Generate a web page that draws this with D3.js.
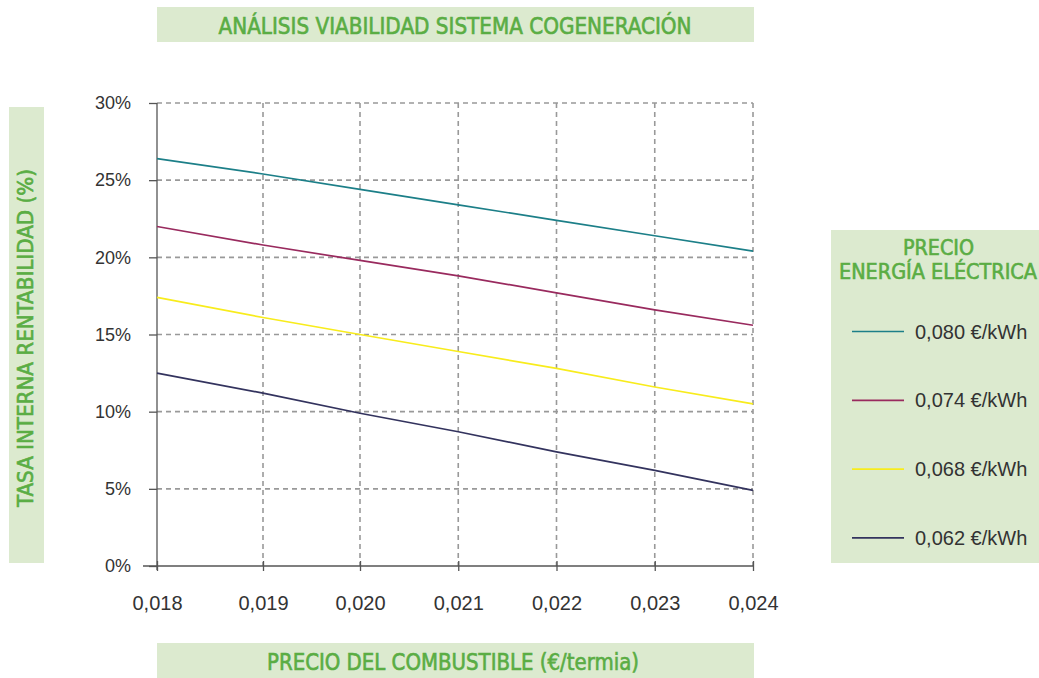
<!DOCTYPE html>
<html>
<head>
<meta charset="utf-8">
<script src="https://cdn.jsdelivr.net/npm/d3@7"></script>
<style>
  body { margin: 0; background: #fff; }
  svg { display: block; }
  .tick text { font-family: "Liberation Sans", Arial, sans-serif; fill: #333; }
  .gtitle { font-family: "Liberation Sans Narrow", "DejaVu Sans Condensed", sans-serif; fill: #5aad44; stroke: #5aad44; stroke-width: 0.6; }
</style>
</head>
<body>
<div id="chart"></div>
<script>
// fuel price ticks (€/termia)
var fuelPrices = [0.018, 0.019, 0.020, 0.021, 0.022, 0.023, 0.024];
var yTicks = [0, 5, 10, 15, 20, 25, 30];

// series: electricity price -> TIR (%) at each fuel price
var seriesNames = ["0,080 €/kWh", "0,074 €/kWh", "0,068 €/kWh", "0,062 €/kWh"];
var tir080 = [26.4, 25.4, 24.4, 23.4, 22.4, 21.4, 20.4];
var tir074 = [22.0, 20.8, 19.8, 18.8, 17.7, 16.6, 15.6];
var tir068 = [17.4, 16.1, 15.0, 13.9, 12.8, 11.6, 10.5];
var tir062 = [12.5, 11.2, 9.9, 8.7, 7.4, 6.2, 4.9];
var colors = ["#1c7f88", "#992a5e", "#f8ec1c", "#33335e"];

var width = 1039, height = 678;
var boxFill = "#dceacf";

var svg = d3.select("#chart").append("svg")
  .attr("width", width)
  .attr("height", height);

// x axis is not evenly spaced in the original (first step is wider)
var x = d3.scaleLinear()
  .domain([0.018, 0.019, 0.020, 0.024])
  .range([157, 263, 360, 753]);

var y = d3.scaleLinear()
  .domain([0, 30])
  .range([566, 103]);

// green title helper, squeezed to the width it has in the original
function greenText(sel, txt, size, len) {
  return sel.append("text")
    .attr("class", "gtitle")
    .attr("text-anchor", "middle")
    .attr("font-size", size)
    .attr("textLength", len)
    .attr("lengthAdjust", "spacingAndGlyphs")
    .text(txt);
}

// title box
svg.append("rect").attr("x", 157).attr("y", 7).attr("width", 597).attr("height", 35).attr("fill", boxFill);
greenText(svg, "ANÁLISIS VIABILIDAD SISTEMA COGENERACIÓN", 23, 473)
  .attr("x", 455).attr("y", 34);

// y title box
svg.append("rect").attr("x", 9).attr("y", 107).attr("width", 35).attr("height", 456).attr("fill", boxFill);
greenText(svg, "TASA INTERNA RENTABILIDAD (%)", 21, 338)
  .attr("transform", "translate(33,338) rotate(-90)");

// x title box
svg.append("rect").attr("x", 157).attr("y", 643).attr("width", 597).attr("height", 35).attr("fill", boxFill);
greenText(svg, "PRECIO DEL COMBUSTIBLE (€/termia)", 23, 372)
  .attr("x", 453).attr("y", 669.5);

// grid
var grid = svg.append("g")
  .attr("stroke", "#999")
  .attr("stroke-width", 1.6)
  .attr("stroke-dasharray", "5,4");

grid.selectAll("line.h")
  .data(yTicks.filter(d => d > 0))
  .join("line")
  .attr("class", "h")
  .attr("x1", x(0.018)).attr("x2", x(0.024))
  .attr("y1", d => y(d)).attr("y2", d => y(d));

grid.selectAll("line.v")
  .data(fuelPrices.filter(d => d > 0.018))
  .join("line")
  .attr("class", "v")
  .attr("x1", d => x(d)).attr("x2", d => x(d))
  .attr("y1", y(30)).attr("y2", y(0));

// axes
var yAxis = svg.append("g")
  .attr("transform", "translate(" + x(0.018) + ",0)")
  .call(d3.axisLeft(y).tickValues(yTicks).tickSize(8).tickPadding(18).tickFormat(d => d + "%"));
yAxis.selectAll("text").attr("font-size", 18);
yAxis.select(".domain").attr("d", "M0," + y(30) + "V" + (y(0) + 4));

var xAxis = svg.append("g")
  .attr("transform", "translate(0," + y(0) + ")")
  .call(d3.axisBottom(x).tickValues(fuelPrices).tickSize(5).tickPadding(25)
    .tickFormat(d => d3.format(".3f")(d).replace(".", ",")));
xAxis.selectAll("text").attr("font-size", 20);
xAxis.selectAll(".tick line").attr("y1", -5);
xAxis.select(".domain").attr("d", "M" + (x(0.018) - 14) + ",0H" + x(0.024));

svg.selectAll(".domain, .tick line").attr("stroke", "#555").attr("stroke-width", 1.3);

// series lines
var allSeries = [tir080, tir074, tir068, tir062];
var line = d3.line()
  .x((d, i) => x(fuelPrices[i]))
  .y(d => y(d));

svg.append("g").selectAll("path")
  .data(allSeries)
  .join("path")
  .attr("d", d => line(d))
  .attr("fill", "none")
  .attr("stroke", (d, i) => colors[i])
  .attr("stroke-width", 1.7);

// legend
var legend = svg.append("g");
legend.append("rect").attr("x", 831).attr("y", 230).attr("width", 208).attr("height", 333).attr("fill", boxFill);
greenText(legend, "PRECIO", 21, 71).attr("x", 938.5).attr("y", 255);
greenText(legend, "ENERGÍA ELÉCTRICA", 21, 198).attr("x", 938).attr("y", 279);

var items = legend.selectAll("g.item")
  .data(seriesNames)
  .join("g")
  .attr("class", "item")
  .attr("transform", (d, i) => "translate(0," + (331.5 + i * 68.8) + ")");
items.append("line")
  .attr("x1", 852).attr("x2", 904)
  .attr("stroke", (d, i) => colors[i])
  .attr("stroke-width", 1.7);
items.append("text")
  .attr("x", 915).attr("dy", "0.35em")
  .attr("font-family", "Liberation Sans, Arial, sans-serif")
  .attr("font-size", 20)
  .attr("fill", "#333")
  .text(d => d);
</script>
</body>
</html>
